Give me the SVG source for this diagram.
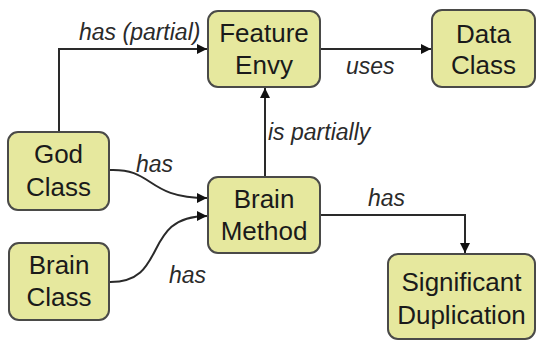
<svg xmlns="http://www.w3.org/2000/svg" width="537" height="341" viewBox="0 0 537 341">
  <style>
    .box { fill: #e6e89e; stroke: #4a4a48; stroke-width: 2; }
    .name { font-family: "Liberation Sans", Arial, sans-serif; font-size: 26px; fill: #1a1a1a; text-anchor: middle; }
    .edge { fill: none; stroke: #2a2a2a; stroke-width: 2; }
    .lbl { font-family: "Liberation Sans", Arial, sans-serif; font-size: 23px; font-style: italic; fill: #2a2a2a; }
  </style>
  <defs>
    <marker id="arrow" viewBox="0 0 10 10" refX="10" refY="5" markerWidth="10" markerHeight="10" markerUnits="userSpaceOnUse" orient="auto">
      <path d="M0,0 L10,5 L0,10 z" fill="#111"/>
    </marker>
  </defs>
  <rect width="537" height="341" fill="#ffffff"/>

  <g id="connectors">
    <path class="edge" d="M59,132 V49 H207" marker-end="url(#arrow)"/>
    <path class="edge" d="M320,49 H431" marker-end="url(#arrow)"/>
    <path class="edge" d="M265,177 V88" marker-end="url(#arrow)"/>
    <path class="edge" d="M109,170 C155,168 145,198 207,198" marker-end="url(#arrow)"/>
    <path class="edge" d="M109,282 C170,283 140,216 207,216" marker-end="url(#arrow)"/>
    <path class="edge" d="M320,215 H465 V253" marker-end="url(#arrow)"/>
    <text class="lbl" x="79" y="40">has (partial)</text>
    <text class="lbl" x="346" y="74">uses</text>
    <text class="lbl" x="268" y="140">is partially</text>
    <text class="lbl" x="136" y="172">has</text>
    <text class="lbl" x="169" y="283">has</text>
    <text class="lbl" x="368" y="206">has</text>
  </g>

  <g id="feature-envy">
    <rect class="box" x="208" y="11" width="112" height="76" rx="10"/>
    <text class="name" x="264" y="42">Feature</text>
    <text class="name" x="264" y="74">Envy</text>
  </g>
  <g id="data-class">
    <rect class="box" x="432" y="10" width="103" height="77" rx="10"/>
    <text class="name" x="483.5" y="43">Data</text>
    <text class="name" x="483.5" y="74">Class</text>
  </g>
  <g id="god-class">
    <rect class="box" x="8" y="132" width="101" height="78" rx="10"/>
    <text class="name" x="58.5" y="163">God</text>
    <text class="name" x="58.5" y="196">Class</text>
  </g>
  <g id="brain-method">
    <rect class="box" x="208" y="177" width="112" height="76" rx="10"/>
    <text class="name" x="264" y="208">Brain</text>
    <text class="name" x="264" y="240">Method</text>
  </g>
  <g id="brain-class">
    <rect class="box" x="9" y="243" width="100" height="77" rx="10"/>
    <text class="name" x="59" y="274">Brain</text>
    <text class="name" x="59" y="306">Class</text>
  </g>
  <g id="significant-duplication">
    <rect class="box" x="388" y="254" width="147" height="85" rx="10"/>
    <text class="name" x="461.5" y="291">Significant</text>
    <text class="name" x="461.5" y="324">Duplication</text>
  </g>
</svg>
